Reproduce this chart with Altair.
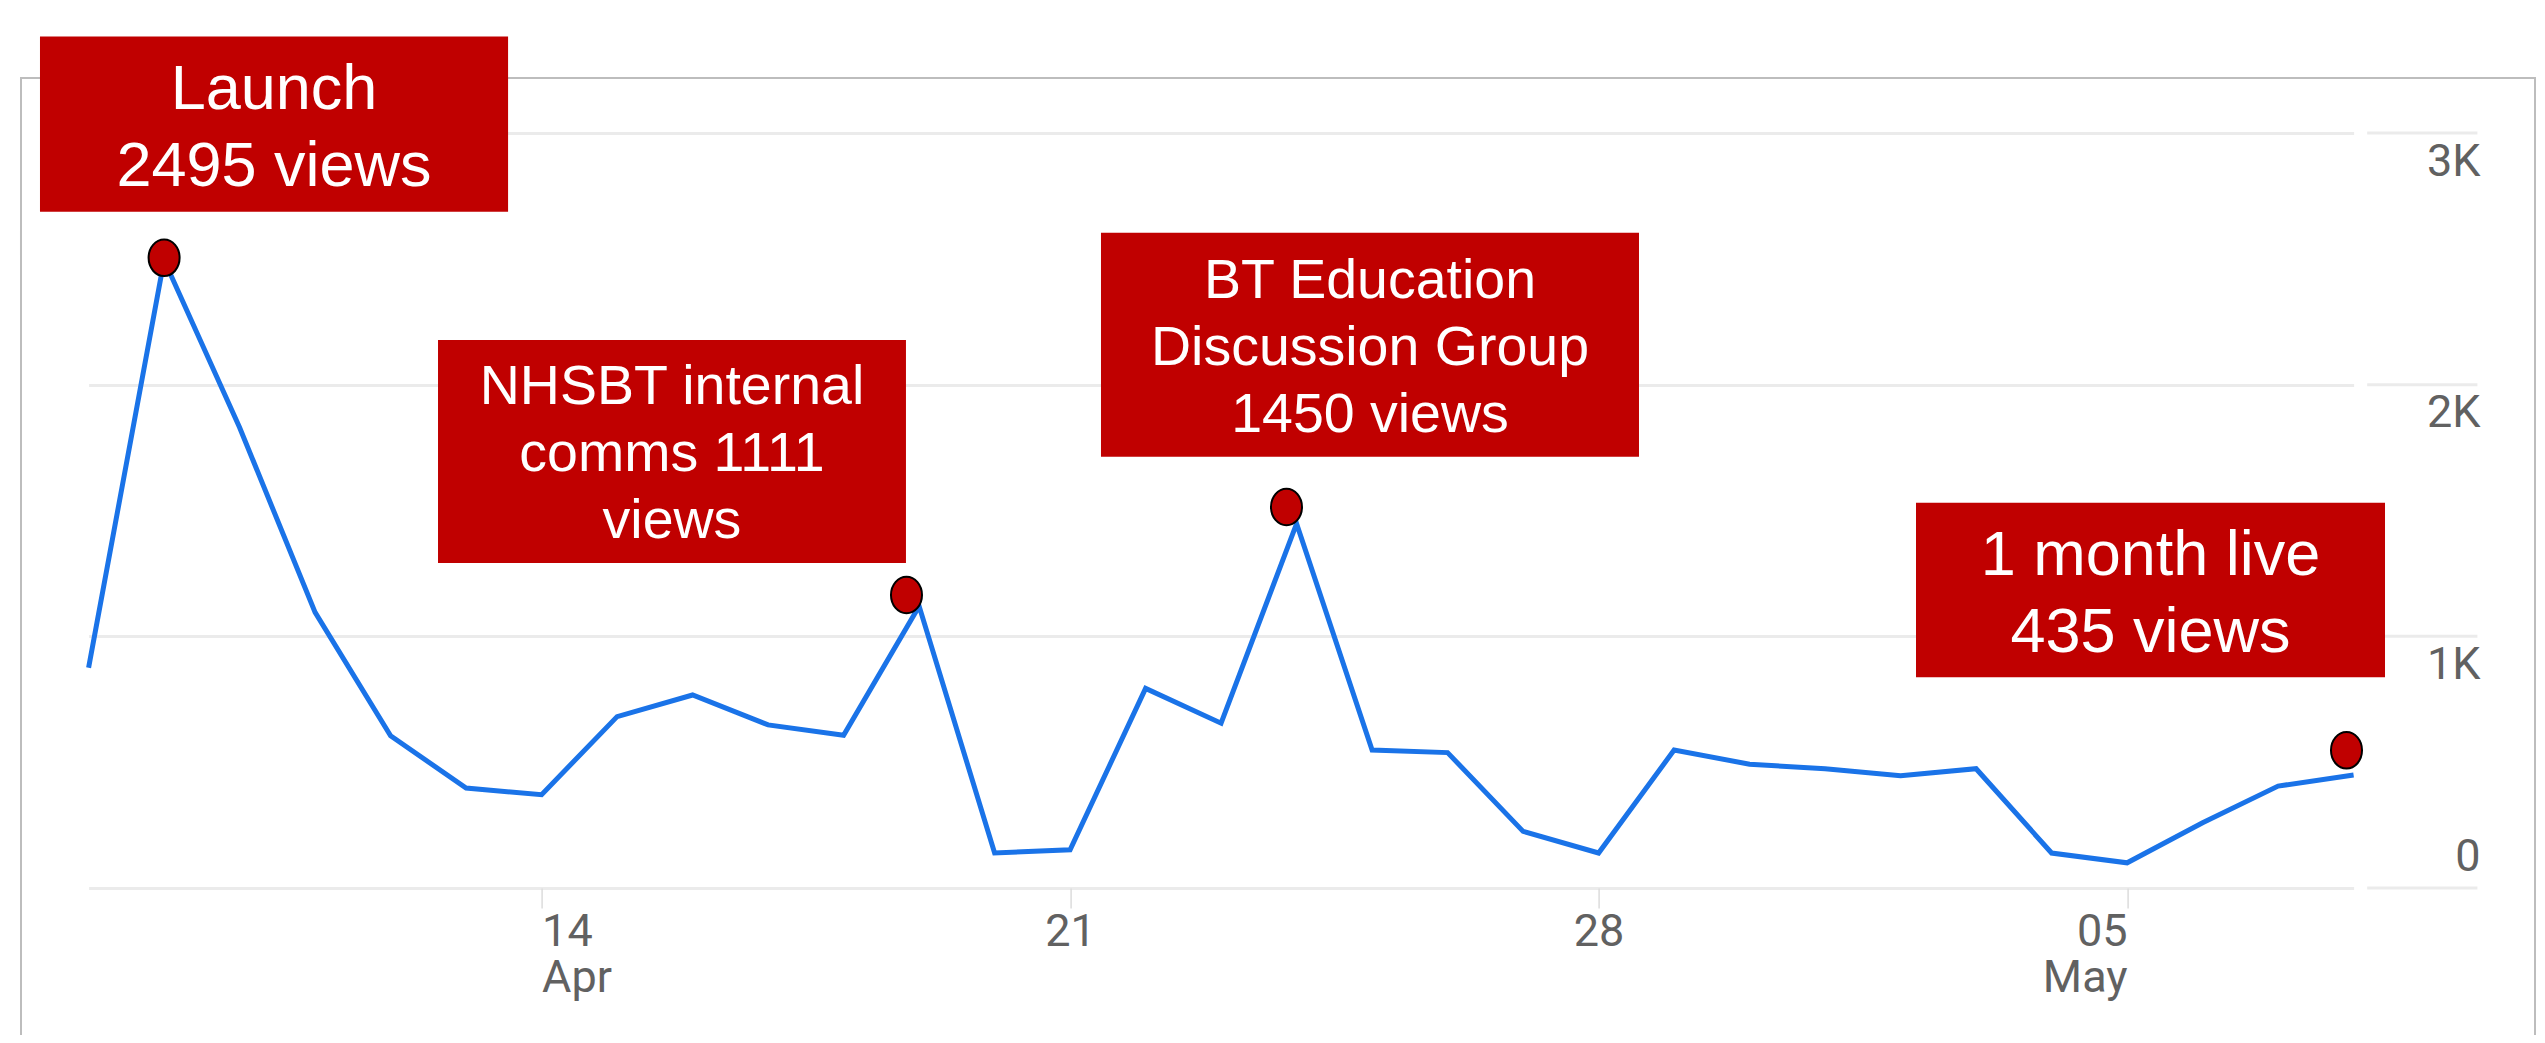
import altair as alt
import pandas as pd

START = pd.Timestamp("2019-04-08")

# daily views, 8 Apr -> 8 May
views = [875, 2495, 1830, 1095, 605, 397, 371, 681, 767, 648, 607, 1120, 139, 152,
         793, 655, 1448, 548, 538, 225, 139, 548, 492, 474, 446, 474, 139, 100, 259,
         405, 449]

# annotation boxes (day offsets from START, view values)
ann_text = ["Launch\n2495 views",
            "NHSBT internal\ncomms 1111\nviews",
            "BT Education\nDiscussion Group\n1450 views",
            "1 month live\n435 views"]
ann_group = ["big", "small", "small", "big"]
box_x0 = [-0.644, 4.628, 13.409, 24.204]
box_x1 = [5.556, 10.826, 20.535, 30.416]
box_y0 = [2687, 1291, 1714, 837]
box_y1 = [3383, 2177, 2604, 1531]
text_x = [2.456, 7.727, 16.972, 27.31]
text_y = [3095, 1923, 2346, 1244]

# red markers
dot_x = [1.0, 10.833, 15.866, 29.906]
dot_y = [2504, 1164, 1514, 547]

y_ticks = [0, 1000, 2000, 3000]


def ts(days):
    return (START + pd.to_timedelta(days, unit="D")).strftime("%Y-%m-%dT%H:%M:%SZ")


line_df = pd.DataFrame({"date": [ts(i) for i in range(len(views))], "views": views})
box_df = pd.DataFrame({"x0": [ts(d) for d in box_x0], "x1": [ts(d) for d in box_x1],
                       "y0": box_y0, "y1": box_y1})
text_df = pd.DataFrame({"x": [ts(d) for d in text_x], "y": text_y,
                        "label": ann_text, "grp": ann_group})
dot_df = pd.DataFrame({"x": [ts(d) for d in dot_x], "y": dot_y})
seg_df = pd.DataFrame({"x0": [ts(30.18)] * 4, "x1": [ts(31.64)] * 4, "y": y_ticks})

x_scale = alt.Scale(type="utc",
                    domain=[alt.DateTime(year=2019, month=4, date=8, utc=True),
                            alt.DateTime(year=2019, month=5, date=8, utc=True)],
                    nice=False)
y_scale = alt.Scale(domain=[0, 3000], nice=False, zero=True)

x_axis = alt.Axis(
    values=[alt.DateTime(year=2019, month=4, date=14, utc=True),
            alt.DateTime(year=2019, month=4, date=21, utc=True),
            alt.DateTime(year=2019, month=4, date=28, utc=True),
            alt.DateTime(year=2019, month=5, date=5, utc=True)],
    labelExpr="(datum.index == 0 || utcdate(datum.value) <= 7) ? [utcFormat(datum.value, '%d'), utcFormat(datum.value, '%b')] : utcFormat(datum.value, '%d')",
    grid=False, domain=False,
    tickColor="#dcdcdc", tickSize=20, tickWidth=1.5,
    labelPadding=1, labelFont="Roboto", labelFontSize=45, labelLineHeight=46,
    labelColor="#616161", labelFlush=False, labelOverlap=False, labelBound=False,
    labelAlign={"condition": [{"test": "datum.index == 0", "value": "left"},
                              {"test": "datum.index == 1", "value": "right"}],
                "value": "center"},
    title=None,
)

y_axis = alt.Axis(
    orient="right", values=y_ticks,
    labelExpr="datum.value == 0 ? '0' : (datum.value / 1000) + 'K'",
    ticks=False, domain=False, grid=True, gridColor="#ebebeb", gridWidth=3,
    labelAlign="right", labelPadding=126.4, labelFont="Roboto", labelFontSize=45,
    labelColor="#616161", labelBaseline="alphabetic",
    labelOffset={"condition": {"test": "datum.value == 0", "value": -18}, "value": 42},
    labelFlush=False, labelOverlap=False, labelBound=False,
    title=None,
)

frame = alt.Chart(pd.DataFrame({"a": [0]})).mark_rect(
    filled=False, stroke="#bdbdbd", strokeWidth=2
).encode(x=alt.value(-67.6), x2=alt.value(2446.4), y=alt.value(-55), y2=alt.value(1000))

line = alt.Chart(line_df).mark_line(color="#1a73e8", strokeWidth=5).encode(
    x=alt.X("date:T", scale=x_scale, axis=x_axis),
    y=alt.Y("views:Q", scale=y_scale, axis=y_axis),
)

segs = alt.Chart(seg_df).mark_rule(color="#ebebeb", strokeWidth=3).encode(
    x=alt.X("x0:T", scale=x_scale), x2="x1:T", y=alt.Y("y:Q", scale=y_scale)
)

boxes = alt.Chart(box_df).mark_rect(color="#C00000", opacity=1).encode(
    x=alt.X("x0:T", scale=x_scale), x2="x1:T",
    y=alt.Y("y0:Q", scale=y_scale), y2="y1:Q",
)

text_big = alt.Chart(text_df).transform_filter(alt.datum.grp == "big").mark_text(
    font="Liberation Sans", fontSize=63, lineHeight=77, color="white",
    align="center", baseline="alphabetic", lineBreak="\n"
).encode(x=alt.X("x:T", scale=x_scale), y=alt.Y("y:Q", scale=y_scale), text="label:N")

text_small = alt.Chart(text_df).transform_filter(alt.datum.grp == "small").mark_text(
    font="Liberation Sans", fontSize=55.5, lineHeight=67, color="white",
    align="center", baseline="alphabetic", lineBreak="\n"
).encode(x=alt.X("x:T", scale=x_scale), y=alt.Y("y:Q", scale=y_scale), text="label:N")

ellipse = "M0,-1A0.85,1,0,1,1,0,1A0.85,1,0,1,1,0,-1Z"
dots = alt.Chart(dot_df).mark_point(
    shape=ellipse, filled=True, fill="#C00000", stroke="black", strokeWidth=2,
    size=1332, opacity=1
).encode(x=alt.X("x:T", scale=x_scale), y=alt.Y("y:Q", scale=y_scale))

chart = alt.layer(frame, line, segs, boxes, text_big, text_small, dots).properties(
    width=2265, height=755,
    autosize=alt.AutoSizeParams(type="none"),
    padding={"left": 80.6, "top": 125, "right": 183.4, "bottom": 147},
).configure_view(stroke=None)

chart.save("out.html", embed_options={"renderer": "svg", "actions": False})
